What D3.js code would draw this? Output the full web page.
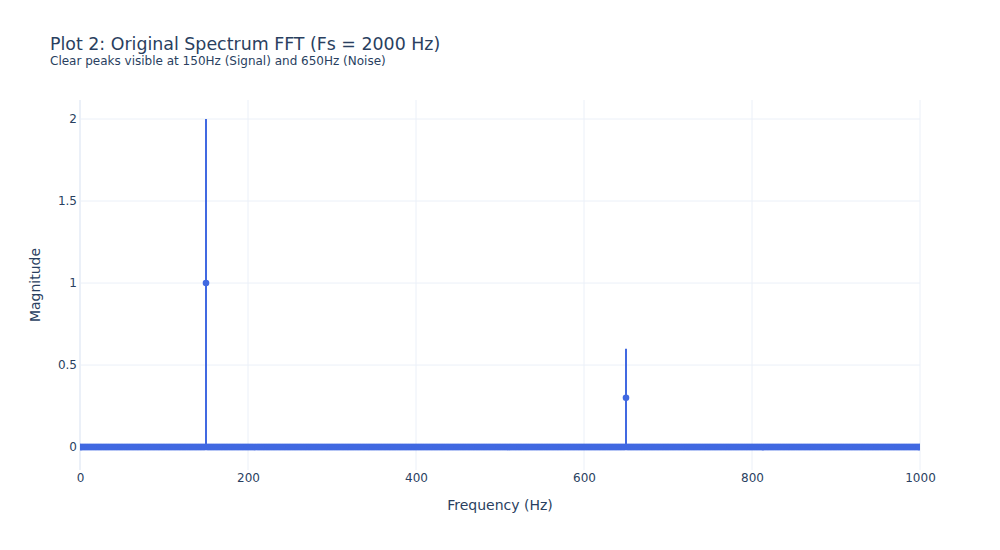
<!DOCTYPE html>
<html>
<head>
<meta charset="utf-8">
<script src="https://cdn.jsdelivr.net/npm/d3@7"></script>
<style>
body{margin:0;background:#fff;}
svg{font-family:"DejaVu Sans",Verdana,sans-serif;}
</style>
</head>
<body>
<svg id="chart" width="1000" height="550"></svg>
<script>
// Data
const titleText = "Plot 2: Original Spectrum FFT (Fs = 2000 Hz)";
const subtitleText = "Clear peaks visible at 150Hz (Signal) and 650Hz (Noise)";
const xTicks = [0, 200, 400, 600, 800, 1000];
const yTicks = [0, 0.5, 1, 1.5, 2];
const yTickLabels = ["0", "0.5", "1", "1.5", "2"];
const peakFreqs = [150, 650];
const peakMags = [1, 0.3];
const binStart = 0, binEnd = 1000, binStep = 1; // FFT bins (1 Hz resolution)

const freqs = d3.range(binStart, binEnd + binStep, binStep);
const mags = freqs.map(f => { const i = peakFreqs.indexOf(f); return i >= 0 ? peakMags[i] : 0; });
const points = freqs.map((f, i) => ({f, m: mags[i]}));

const W = 1000, H = 550;
const m = {l: 80, r: 80, t: 100, b: 80};
const svg = d3.select("#chart");
const color = "#4169e1";
const grid = "#ebf0f8";
const textColor = "#2a3f5f";
const font = "'DejaVu Sans',Verdana,sans-serif";

const x = d3.scaleLinear().domain([0, 1000]).range([m.l, W - m.r]);
const y = d3.scaleLinear().domain([-0.14, 2.116]).range([H - m.b, m.t]);

svg.append("defs").append("clipPath").attr("id", "clip")
  .append("rect").attr("x", m.l).attr("y", m.t).attr("width", W - m.l - m.r).attr("height", H - m.t - m.b);

// gridlines
const g = svg.append("g");
g.selectAll(".vg").data(xTicks).join("line")
  .attr("x1", d => x(d)).attr("x2", d => x(d))
  .attr("y1", m.t).attr("y2", H - m.b)
  .attr("stroke", grid).attr("stroke-width", d => d === 0 ? 2 : 1);
g.selectAll(".hg").data(yTicks).join("line")
  .attr("x1", m.l).attr("x2", W - m.r)
  .attr("y1", d => y(d)).attr("y2", d => y(d))
  .attr("stroke", grid).attr("stroke-width", d => d === 0 ? 2 : 1);

// axes (labels only)
const xa = svg.append("g").attr("transform", `translate(0,${H - m.b})`)
  .call(d3.axisBottom(x).tickValues(xTicks).tickSize(0).tickPadding(3).tickFormat(d3.format("d")));
xa.select(".domain").remove();
xa.selectAll("text").attr("fill", textColor).style("font-size", "12px").style("font-family", font);

const ya = svg.append("g").attr("transform", `translate(${m.l},0)`)
  .call(d3.axisLeft(y).tickValues(yTicks).tickSize(0).tickPadding(3).tickFormat((d, i) => yTickLabels[i]));
ya.select(".domain").remove();
ya.selectAll("text").attr("fill", textColor).style("font-size", "12px").style("font-family", font);

// stems (symmetric error bars around each point)
const plot = svg.append("g").attr("clip-path", "url(#clip)");
plot.selectAll(".stem").data(points.filter(p => p.m > 0)).join("line")
  .attr("x1", p => x(p.f)).attr("x2", p => x(p.f))
  .attr("y1", p => y(p.m - p.m)).attr("y2", p => y(p.m + p.m))
  .attr("stroke", color).attr("stroke-width", 2);

// markers
plot.selectAll(".pt").data(points).join("circle")
  .attr("cx", p => x(p.f)).attr("cy", p => y(p.m))
  .attr("r", 3.3).attr("fill", color);

// titles
svg.append("text").attr("x", 50).attr("y", 50).attr("fill", textColor)
  .style("font-size", "17.4px").text(titleText);
svg.append("text").attr("x", 50).attr("y", 65).attr("fill", textColor)
  .style("font-size", "12px").text(subtitleText);
svg.append("text").attr("x", (m.l + W - m.r) / 2).attr("y", 510).attr("text-anchor", "middle")
  .attr("fill", textColor).style("font-size", "14px").text("Frequency (Hz)");
svg.append("text").attr("transform", `translate(40,${(m.t + H - m.b) / 2}) rotate(-90)`)
  .attr("text-anchor", "middle").attr("fill", textColor).style("font-size", "14px").text("Magnitude");
</script>
</body>
</html>
